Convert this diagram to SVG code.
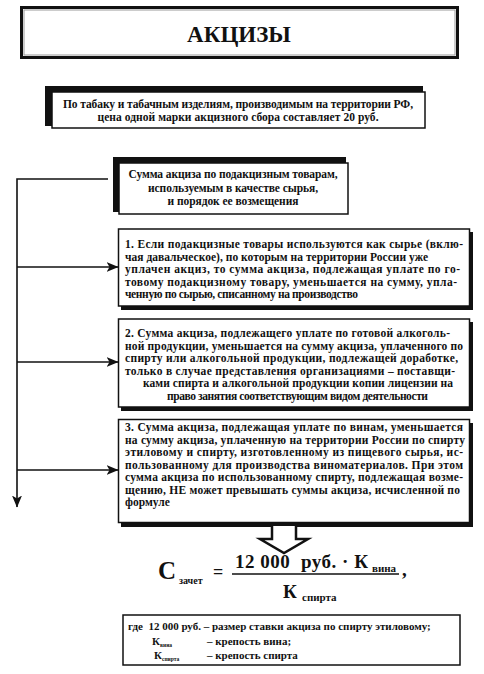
<svg xmlns="http://www.w3.org/2000/svg" width="484" height="674" viewBox="0 0 484 674">
<style>
text{font-family:"Liberation Serif","Times New Roman",serif;font-weight:bold;fill:#111}
.t{font-size:11.5px}
.c{text-anchor:middle}
.box{fill:#fff;stroke:#111;stroke-width:1.5}
.sh{fill:#111}
.ln{fill:none;stroke:#111;stroke-width:1.6}
</style>
<defs>
<marker id="ah" viewBox="0 0 12 10" refX="11.5" refY="5" markerWidth="12" markerHeight="10" markerUnits="userSpaceOnUse" orient="auto">
<path d="M0,0 L12,5 L0,10 L3,5 Z" fill="#111"/>
</marker>
</defs>
<rect width="484" height="674" fill="#fff"/>

<g id="title">
<rect x="21.5" y="7.5" width="436" height="50" fill="#fff" stroke="#111" stroke-width="3"/>
<rect x="24" y="10" width="431" height="45" fill="none" stroke="#999" stroke-width="1"/>
<text x="239" y="42" class="c" style="font-size:23px">АКЦИЗЫ</text>
</g>

<g id="note">
<rect class="sh" x="45" y="86" width="378" height="40"/>
<rect class="box" x="52" y="92" width="373" height="36"/>
<text class="t c" x="238" y="108" textLength="350">По табаку и табачным изделиям, производимым на территории РФ,</text>
<text class="t c" x="238" y="121" textLength="281">цена одной  марки акцизного сбора составляет  20 руб.</text>
</g>

<g id="sum">
<rect class="sh" x="113" y="157" width="233" height="55"/>
<rect class="box" x="119" y="163" width="229" height="51"/>
<text class="t c" x="233" y="178" textLength="209">Сумма акциза по подакцизным товарам,</text>
<text class="t c" x="233" y="192" textLength="170">используемым в качестве сырья,</text>
<text class="t c" x="233" y="205" textLength="131">и порядок ее возмещения</text>
</g>

<g id="item1">
<rect class="sh" x="121" y="232" width="352" height="78"/>
<rect class="box" x="118.5" y="229" width="351" height="77"/>
<text class="t" x="125" y="248" textLength="338">1. Если подакцизные товары используются как сырье (вклю-</text>
<text class="t" x="125" y="260.5" textLength="303">чая давальческое), по которым на территории России уже</text>
<text class="t" x="125" y="273" textLength="335">уплачен акциз, то сумма акциза, подлежащая уплате по го-</text>
<text class="t" x="125" y="285.5" textLength="332">товому подакцизному товару, уменьшается на сумму, упла-</text>
<text class="t" x="125" y="298" textLength="233">ченную по сырью, списанному на производство</text>
</g>

<g id="item2">
<rect class="sh" x="121" y="322" width="352" height="89"/>
<rect class="box" x="118.5" y="319" width="351" height="88"/>
<text class="t" x="125" y="337" textLength="325">2. Сумма акциза, подлежащего уплате по готовой алкоголь-</text>
<text class="t" x="125" y="349.5" textLength="338">ной продукции, уменьшается на сумму акциза, уплаченного по</text>
<text class="t" x="125" y="362" textLength="333">спирту или алкогольной продукции, подлежащей доработке,</text>
<text class="t" x="125" y="374.5" textLength="330">только в случае представления организациями – поставщи-</text>
<text class="t" x="143" y="387" textLength="310">ками спирта и алкогольной продукции копии лицензии на</text>
<text class="t" x="167" y="399.5" textLength="261">право занятия соответствующим видом деятельности</text>
</g>

<g id="item3">
<rect class="sh" x="121" y="423" width="352" height="104"/>
<rect class="box" x="118.5" y="419.5" width="351" height="103"/>
<text class="t" x="125" y="431" textLength="338">3. Сумма акциза, подлежащая уплате по винам, уменьшается</text>
<text class="t" x="125" y="443.5" textLength="340">на сумму акциза, уплаченную на территории России по спирту</text>
<text class="t" x="125" y="456" textLength="338">этиловому и спирту, изготовленному из пищевого сырья, ис-</text>
<text class="t" x="125" y="468.5" textLength="338">пользованному для производства виноматериалов. При этом</text>
<text class="t" x="125" y="481" textLength="338">сумма  акциза по использованному спирту, подлежащая возме-</text>
<text class="t" x="125" y="493.5" textLength="335">щению, НЕ может превышать суммы акциза, исчисленной по</text>
<text class="t" x="125" y="506">формуле</text>
</g>

<g id="connectors">
<path class="ln" d="M108,179 H17 V507" marker-end="url(#ah)"/>
<path class="ln" d="M17,267 H118" marker-end="url(#ah)"/>
<path class="ln" d="M17,362 H118" marker-end="url(#ah)"/>
<path class="ln" d="M17,470 H118" marker-end="url(#ah)"/>
<path d="M272,526 V539 H260 L284,553 L308,539 H296 V526" fill="#fff" stroke="#111" stroke-width="2.5" stroke-linejoin="miter"/>
</g>

<g id="formula">
<text x="158" y="579" style="font-size:25px">С</text>
<text x="179" y="584" style="font-size:10px">зачет</text>
<text x="213" y="578" style="font-size:18px">=</text>
<text x="235" y="568" style="font-size:19px" xml:space="preserve" textLength="133">12 000  руб. · К</text>
<text x="372" y="572" style="font-size:11px">вина</text>
<line x1="232" y1="574" x2="399" y2="574" stroke="#111" stroke-width="1.5"/>
<text x="402" y="576" style="font-size:19px">,</text>
<text x="283" y="598" style="font-size:19px">К</text>
<text x="302" y="601" style="font-size:11px">спирта</text>
</g>

<g id="legend">
<rect x="123" y="615" width="337" height="50" fill="#fff" stroke="#111" stroke-width="1.5"/>
<text x="128" y="630" style="font-size:11px" xml:space="preserve">где  12 000 руб. – размер ставки акциза по спирту этиловому;</text>
<text x="152" y="645" style="font-size:11px">К</text>
<text x="160" y="647" style="font-size:5.5px">вина</text>
<text x="207" y="645" style="font-size:11px">– крепость вина;</text>
<text x="154" y="659" style="font-size:11px">К</text>
<text x="162" y="661" style="font-size:5.5px">спирта</text>
<text x="207" y="659" style="font-size:11px">– крепость спирта</text>
</g>
</svg>
